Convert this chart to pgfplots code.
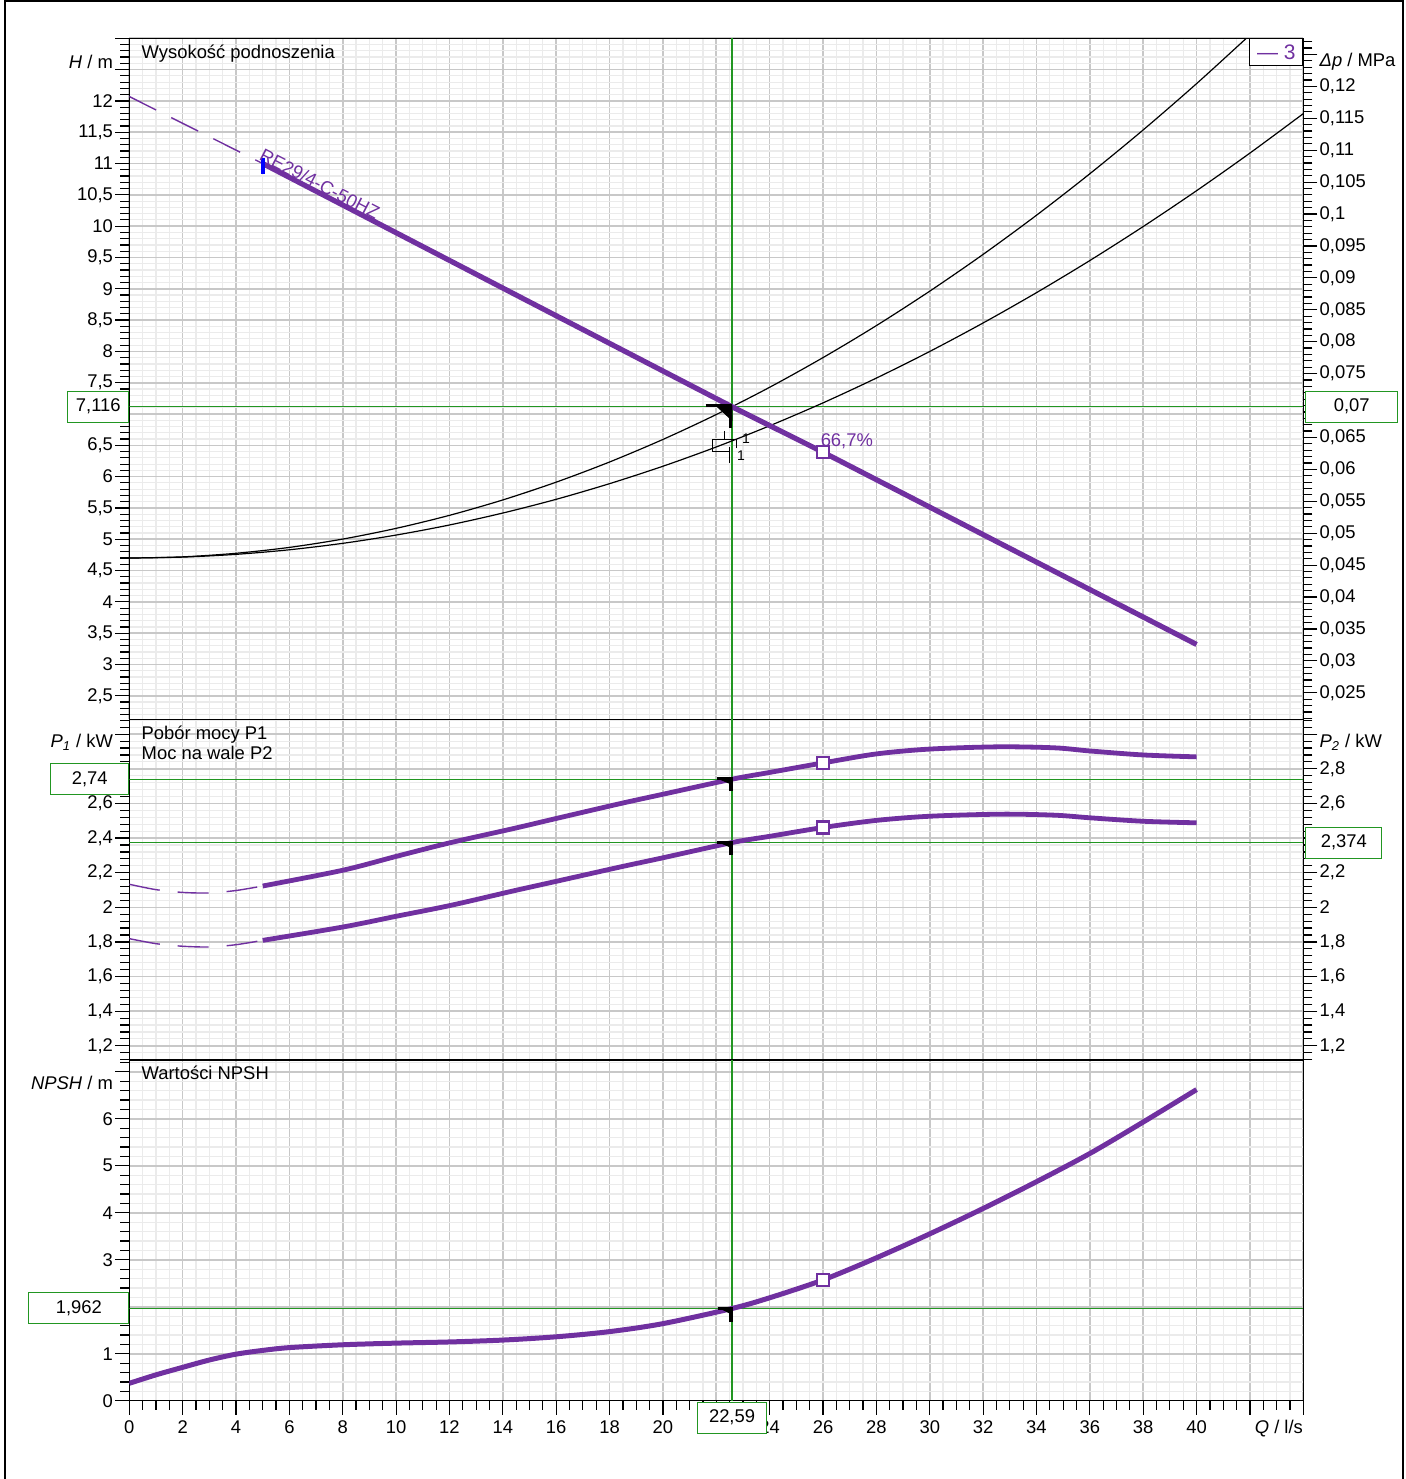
\documentclass[border=0pt]{standalone}
\usepackage{fontspec}
\setmainfont{Liberation Sans}
\usepackage{pgfplots}
\pgfplotsset{compat=1.18}
\definecolor{pump}{RGB}{112,48,160}
\definecolor{opg}{RGB}{34,150,34}
\definecolor{gmaj}{RGB}{200,200,200}
\definecolor{gmin}{RGB}{235,235,235}
\newcommand{\fs}{\fontsize{9.2}{11}\selectfont}
\pgfplotsset{
 base/.style={scale only axis, width=587pt, xmin=0, xmax=44, anchor=south west,
  axis line style={black, line width=0.75pt},
  tick align=outside,
  major tick length=7pt, minor tick length=4.5pt,
  every tick/.append style={black, line width=0.6pt},
  ticklabel style={font=\fs, inner sep=1pt},
  /pgf/number format/assume math mode=true},
 gridded/.style={base, grid=both,
  major grid style={gmaj, line width=0.8pt},
  minor grid style={gmin, line width=0.6pt},
  xtick={0,2,...,44}, minor xtick={0.5,1,...,43.5}},
 ovl/.style={base, axis y line*=right, axis x line=none, grid=none, scaled y ticks=false},
}
\begin{document}
\begin{tikzpicture}
\path[use as bounding box] (0,0) rectangle (702.5pt,739.5pt);
% ---------------- top panel ----------------
\begin{axis}[gridded, at={(64.65pt,379.85pt)}, height=340.5pt,
  ymin=2.125, ymax=13,
  ytick={2.5,3,3.5,4,4.5,5,5.5,6,6.5,7,7.5,8,8.5,9,9.5,10,10.5,11,11.5,12,12.5,13},
  yticklabels={{2,5},3,{3,5},4,{4,5},5,{5,5},6,{6,5},{},{7,5},8,{8,5},9,{9,5},10,{10,5},11,{11,5},12,{},{}},
  minor ytick={2.2,2.3,...,12.95},
  ytick pos=left, xticklabels={}, xtick style={draw=none}]
\addplot[opg, line width=0.65pt] coordinates {(0,7.116)(44,7.116)};
\addplot[opg, line width=0.65pt] coordinates {(22.59,2.125)(22.59,13)};
\addplot[black, line width=0.6pt, smooth] coordinates {(0,4.700)(2,4.719)(4,4.776)(6,4.870)(8,5.003)(10,5.174)(12,5.382)(14,5.628)(16,5.912)(18,6.234)(20,6.594)(22,6.992)(24,7.427)(26,7.901)(28,8.412)(30,8.962)(32,9.549)(34,10.174)(36,10.837)(38,11.537)(40,12.276)(42,13.053)};
\addplot[black, line width=0.6pt, smooth] coordinates {(0,4.700)(2,4.715)(4,4.759)(6,4.832)(8,4.935)(10,5.067)(12,5.228)(14,5.419)(16,5.638)(18,5.888)(20,6.166)(22,6.474)(24,6.812)(26,7.178)(28,7.574)(30,7.999)(32,8.454)(34,8.938)(36,9.451)(38,9.994)(40,10.566)(42,11.167)(44,11.797)};
\addplot[pump, line width=0.7pt, dash pattern=on 15pt off 8.5pt] coordinates {(0,12.07)(5,11.0)};
\addplot[pump, line width=2.6pt] coordinates {(5,11.0)(10,9.895)(15,8.79)(20,7.687)(22.59,7.116)(26,6.39)(30,5.513)(35,4.416)(40,3.32)};
\addplot[blue, line width=1.8pt] coordinates {(5,11.09)(5,10.84)};
\addplot[pump, only marks, mark=square*, mark size=3pt, mark options={fill=white, line width=1.2pt}] coordinates {(26,6.39)};
% operating point symbol
\addplot[black, line width=1.5pt] coordinates {(21.6,7.13)(22.52,7.13)(22.52,6.77)};
\addplot[black, fill=black, line width=0.4pt] coordinates {(22.0,7.13)(22.59,7.13)(22.59,6.9)} -- cycle;
% small step symbol
\addplot[black, line width=0.6pt] coordinates {(22.30,6.73)(22.30,6.59)};
\addplot[black, line width=0.6pt] coordinates {(22.75,6.45)(22.75,6.59)(21.85,6.59)(21.85,6.40)(22.49,6.40)};
\addplot[black, line width=0.6pt] coordinates {(22.49,6.47)(22.49,6.22)};
\coordinate (tTL) at (rel axis cs:0,1);
\coordinate (tTR) at (rel axis cs:1,1);
\coordinate (hlab) at (axis cs:0,12.62);
\coordinate (dplab) at (axis cs:44,12.62);
\coordinate (hbox) at (axis cs:0,7.116);
\coordinate (dpbox) at (axis cs:44,7.116);
\coordinate (pl) at (axis cs:4.82,11.07);
\coordinate (eff) at (axis cs:25.9,6.56);
\coordinate (one1) at (axis cs:23.11,6.60);
\coordinate (one2) at (axis cs:22.93,6.335);
\end{axis}
\begin{axis}[ovl, at={(64.65pt,379.85pt)}, height=340.5pt,
  ymin=0.0208463, ymax=0.12753,
  ytick={0.025,0.03,0.035,0.04,0.045,0.05,0.055,0.06,0.065,0.07,0.075,0.08,0.085,0.09,0.095,0.1,0.105,0.11,0.115,0.12,0.125},
  yticklabels={{0,025},{0,03},{0,035},{0,04},{0,045},{0,05},{0,055},{0,06},{0,065},{},{0,075},{0,08},{0,085},{0,09},{0,095},{0,1},{0,105},{0,11},{0,115},{0,12},{}},
  minor ytick={0.021,0.022,...,0.1275}]
\end{axis}
% ---------------- middle panel ----------------
\begin{axis}[gridded, at={(64.65pt,209.5pt)}, height=170.35pt,
  ymin=1.118, ymax=3.086,
  ytick={1.2,1.4,1.6,1.8,2,2.2,2.4,2.6,2.8,3},
  yticklabels={{1,2},{1,4},{1,6},{1,8},2,{2,2},{2,4},{2,6},{},{}},
  minor ytick={1.12,1.16,...,3.085},
  ytick pos=left, xticklabels={}, xtick style={draw=none}]
\addplot[opg, line width=0.65pt] coordinates {(0,2.74)(44,2.74)};
\addplot[opg, line width=0.65pt] coordinates {(0,2.374)(44,2.374)};
\addplot[opg, line width=0.65pt] coordinates {(22.59,1.118)(22.59,3.086)};
\addplot[pump, line width=0.7pt, dash pattern=on 15.5pt off 9pt, smooth] coordinates {(0,2.133)(1,2.102)(2,2.086)(3,2.083)(4,2.097)(5,2.123)};
\addplot[pump, line width=0.7pt, dash pattern=on 15.5pt off 9pt, smooth] coordinates {(0,1.819)(1,1.790)(2,1.775)(3,1.771)(4,1.784)(5,1.809)};
\addplot[pump, line width=2.4pt, smooth] coordinates {(5,2.123)(8,2.214)(10,2.294)(12,2.372)(14.4,2.455)(16,2.513)(18.4,2.599)(20,2.653)(22.59,2.74)(24,2.779)(26,2.834)(28,2.886)(30,2.914)(32.6,2.927)(34.7,2.921)(36,2.903)(38,2.880)(40,2.869)};
\addplot[pump, line width=2.4pt, smooth] coordinates {(5,1.809)(8,1.886)(10,1.948)(12.07,2.012)(14.4,2.095)(16,2.150)(18.4,2.233)(20,2.286)(22.59,2.374)(24,2.410)(26,2.461)(28,2.502)(30,2.526)(32.7,2.538)(34.7,2.532)(36,2.517)(38,2.497)(40,2.488)};
\addplot[pump, only marks, mark=square*, mark size=3pt, mark options={fill=white, line width=1.2pt}] coordinates {(26,2.834)(26,2.461)};
\addplot[black, line width=1.6pt] coordinates {(22.02,2.742)(22.55,2.742)(22.55,2.672)};
\addplot[black, fill=black, line width=0.4pt] coordinates {(22.1,2.742)(22.59,2.742)(22.59,2.71)} -- cycle;
\addplot[black, line width=1.6pt] coordinates {(22.02,2.376)(22.55,2.376)(22.55,2.302)};
\addplot[black, fill=black, line width=0.4pt] coordinates {(22.1,2.376)(22.59,2.376)(22.59,2.344)} -- cycle;
\coordinate (mTL) at (rel axis cs:0,1);
\coordinate (p1lab) at (axis cs:0,2.954);
\coordinate (p2lab) at (axis cs:44,2.954);
\coordinate (p1box) at (axis cs:0,2.74);
\coordinate (p2box) at (axis cs:44,2.374);
\end{axis}
\begin{axis}[ovl, at={(64.65pt,209.5pt)}, height=170.35pt,
  ymin=1.118, ymax=3.086,
  ytick={1.2,1.4,1.6,1.8,2,2.2,2.4,2.6,2.8,3},
  yticklabels={{1,2},{1,4},{1,6},{1,8},2,{2,2},{},{2,6},{2,8},{}},
  minor ytick={1.12,1.16,...,3.085}]
\end{axis}
% ---------------- bottom panel ----------------
\begin{axis}[gridded, at={(64.65pt,39.15pt)}, height=170.35pt,
  ymin=0, ymax=7.25,
  ytick={0,1,2,3,4,5,6,7},
  yticklabels={0,1,{},3,4,5,6,{}},
  minor ytick={0.2,0.4,...,7.21},
  xticklabels={0,2,4,6,8,10,12,14,16,18,20,{},24,26,28,30,32,34,36,38,40,{},{}},
  xticklabel style={yshift=-2pt},
  tick pos=left]
\addplot[opg, line width=0.65pt] coordinates {(0,1.962)(44,1.962)};
\addplot[opg, line width=0.65pt] coordinates {(22.59,0)(22.59,7.25)};
\addplot[pump, line width=2.5pt, smooth] coordinates {(0,0.37)(1,0.55)(2,0.71)(3,0.866)(4,0.99)(5,1.07)(6,1.13)(8,1.19)(10,1.225)(12,1.25)(14,1.29)(16,1.36)(18,1.47)(20,1.64)(22.59,1.962)(24,2.19)(26,2.57)(28,3.04)(30,3.55)(32,4.09)(34,4.66)(36,5.26)(38,5.93)(40,6.62)};
\addplot[pump, only marks, mark=square*, mark size=3pt, mark options={fill=white, line width=1.2pt}] coordinates {(26,2.57)};
\addplot[black, line width=1.6pt] coordinates {(22.05,1.965)(22.55,1.965)(22.55,1.68)};
\addplot[black, fill=black, line width=0.4pt] coordinates {(22.15,1.965)(22.59,1.965)(22.59,1.84)} -- cycle;
\coordinate (bTL) at (rel axis cs:0,1);
\coordinate (nlab) at (axis cs:0,6.76);
\coordinate (nbox) at (axis cs:0,1.962);
\coordinate (qbox) at (axis cs:22.59,0);
\coordinate (qlab) at (rel axis cs:1,0);
\end{axis}
% ---------------- texts ----------------
\begin{scope}[every node/.style={font=\fs, inner sep=0pt}]
\node[anchor=east] at ([xshift=-8pt]hlab) {\textit{H} / m};
\node[anchor=west] at ([xshift=8pt]dplab) {\textit{Δp} / MPa};
\node[anchor=east] at ([xshift=-8pt]p1lab) {\textit{P}\textsubscript{\textit{1}} / kW};
\node[anchor=west] at ([xshift=8pt]p2lab) {\textit{P}\textsubscript{\textit{2}} / kW};
\node[anchor=east] at ([xshift=-8pt]nlab) {\textit{NPSH} / m};
\node[anchor=base east] at ([yshift=-16.3pt]qlab) {\textit{Q} / l/s};
\node[anchor=base west] at ([shift={(6pt,-10pt)}]tTL) {Wysokość podnoszenia};
\node[anchor=base west] at ([shift={(6pt,-10pt)}]mTL) {Pobór mocy P1};
\node[anchor=base west] at ([shift={(6pt,-20.35pt)}]mTL) {Moc na wale P2};
\node[anchor=base west] at ([shift={(6pt,-10pt)}]bTL) {Wartości NPSH};
\node[anchor=base west, rotate=-27.4, text=pump] at (pl) {RE29/4-C-50HZ};
\node[anchor=west, text=pump] at (eff) {66,7\%};
\node[font=\fontsize{7}{8}\selectfont] at (one1) {1};
\node[font=\fontsize{7}{8}\selectfont] at (one2) {1};
\node[draw=black, line width=0.5pt, fill=white, anchor=north east, minimum width=26.5pt, minimum height=13.5pt, text=pump, font=\fontsize{10.5}{12}\selectfont] at (tTR) {— 3};
\tikzset{gbox/.style={draw=opg, line width=0.5pt, fill=white, minimum height=15.5pt}}
\node[gbox, anchor=east, minimum width=30.5pt] at (hbox) {7,116};
\node[gbox, anchor=west, minimum width=46pt] at ([xshift=1pt]dpbox) {0,07};
\node[gbox, anchor=east, minimum width=39pt] at (p1box) {2,74};
\node[gbox, anchor=west, minimum width=38pt] at ([xshift=1pt]p2box) {2,374};
\node[gbox, anchor=east, minimum width=50pt] at (nbox) {1,962};
\node[gbox, anchor=north, minimum width=34.5pt] at ([yshift=-0.5pt]qbox) {22,59};
\end{scope}
\draw[line width=0.75pt] (2.5pt,0pt) -- (2.5pt,739pt) -- (701.5pt,739pt) -- (701.5pt,0pt);
\end{tikzpicture}
\end{document}
